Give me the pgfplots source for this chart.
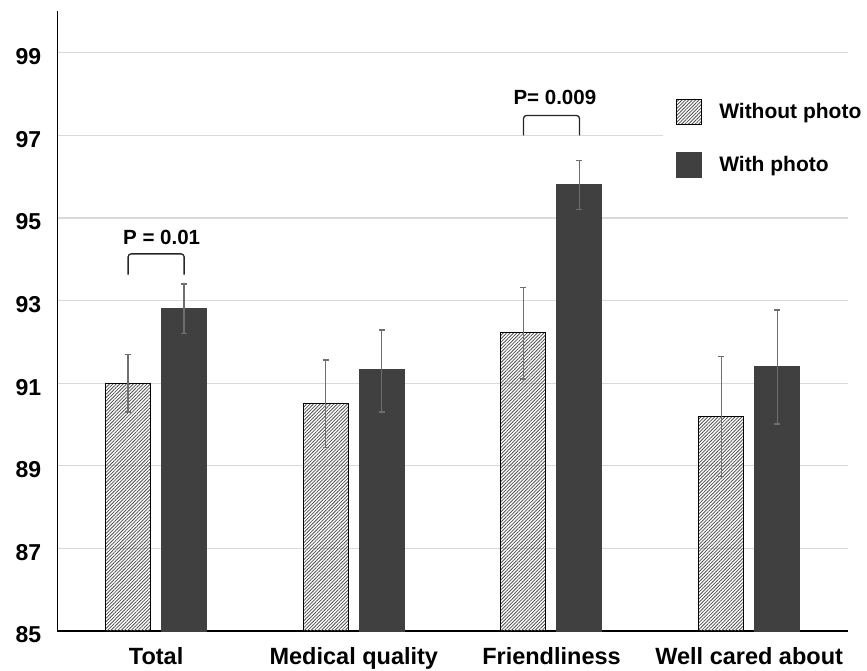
\documentclass[border=0pt]{standalone}
\usepackage{pgfplots}
\pgfplotsset{compat=1.18}
\usepackage{pgfplotstable}
\usepackage{fontspec}
\setmainfont{Liberation Sans}
\usetikzlibrary{patterns.meta}
\definecolor{darkbar}{HTML}{404040}
\definecolor{errgray}{HTML}{6E6E6E}
\definecolor{gridgray}{HTML}{D9D9D9}
\definecolor{hatchgray}{HTML}{505050}

\pgfplotstableread{
x y ep em
0 91.00 0.70 0.70
1 90.51 1.05 1.07
2 92.22 1.10 1.12
3 90.20 1.45 1.46
}\withoutdata

\pgfplotstableread{
x y ep em
0 92.80 0.60 0.59
1 91.32 0.97 1.02
2 95.81 0.58 0.60
3 91.41 1.36 1.40
}\withdata

\begin{document}
\begin{tikzpicture}
\begin{axis}[
  at={(0pt,0pt)}, anchor=south west,
  scale only axis, width=790.7pt, height=619.6pt,
  xmin=-0.5, xmax=3.5, ymin=85, ymax=100,
  axis x line*=bottom, axis y line*=left,
  axis line style={line width=1.3pt, black},
  xtick={0,1,2,3},
  xticklabels={Total, Medical quality, Friendliness, Well cared about},
  ytick={85,87,...,99},
  major tick length=0pt,
  ymajorgrids, grid style={gridgray, line width=1.2pt},
  ybar=11pt, bar width=45pt,
  /pgf/number format/assume math mode=true,
  yticklabel style={font=\bfseries\fontsize{23}{23}\selectfont, inner sep=0pt, anchor=east, xshift=-16pt, yshift=-4pt},
  xticklabel style={font=\bfseries\fontsize{23.5}{23.5}\selectfont, anchor=base, inner sep=0pt, yshift=-33.5pt},
  legend style={draw=none, fill=white, inner sep=13pt, at={(0.7661,0.8805)}, anchor=north west,
    font=\bfseries\fontsize{21}{21}\selectfont, row sep=28pt, column sep=17pt,
    nodes={inner sep=0pt}},
  legend cell align=left,
  legend image code/.code={\draw[#1] (0pt,-13pt) rectangle (25pt,12pt);},
]
\addplot[draw=black, line width=1pt, pattern={Lines[angle=45,distance=2.4pt,line width=0.8pt]}, pattern color=hatchgray,
  error bars/.cd, y dir=both, y explicit,
  error bar style={errgray, line width=1.3pt},
  error mark options={rotate=90, mark size=3pt, errgray, line width=1.3pt}]
  table[x=x, y=y, y error plus=ep, y error minus=em] {\withoutdata};
\addlegendentry{Without photo}
\addplot[draw=darkbar, fill=darkbar, line width=0pt,
  error bars/.cd, y dir=both, y explicit,
  error bar style={errgray, line width=1.3pt},
  error mark options={rotate=90, mark size=3pt, errgray, line width=1.3pt}]
  table[x=x, y=y, y error plus=ep, y error minus=em] {\withdata};
\addlegendentry{With photo}

\draw[line width=1.3pt, black!85, rounded corners=3pt] (axis cs:-0.1416,93.63) |- (axis cs:0,94.13) -| (axis cs:0.1416,93.63);
\draw[line width=1.3pt, black!85, rounded corners=3pt] (axis cs:1.8584,97.0) |- (axis cs:2,97.48) -| (axis cs:2.1416,97.0);
\node[font=\bfseries\fontsize{20.5}{20.5}\selectfont, inner sep=0pt] at (axis cs:0.028,94.53) {P = 0.01};
\node[font=\bfseries\fontsize{20.5}{20.5}\selectfont, inner sep=0pt] at (axis cs:2.017,97.92) {P= 0.009};
\end{axis}
\pgfresetboundingbox
\useasboundingbox (-57.3pt,-39pt) rectangle (809.7pt,631pt);
\end{tikzpicture}
\end{document}
